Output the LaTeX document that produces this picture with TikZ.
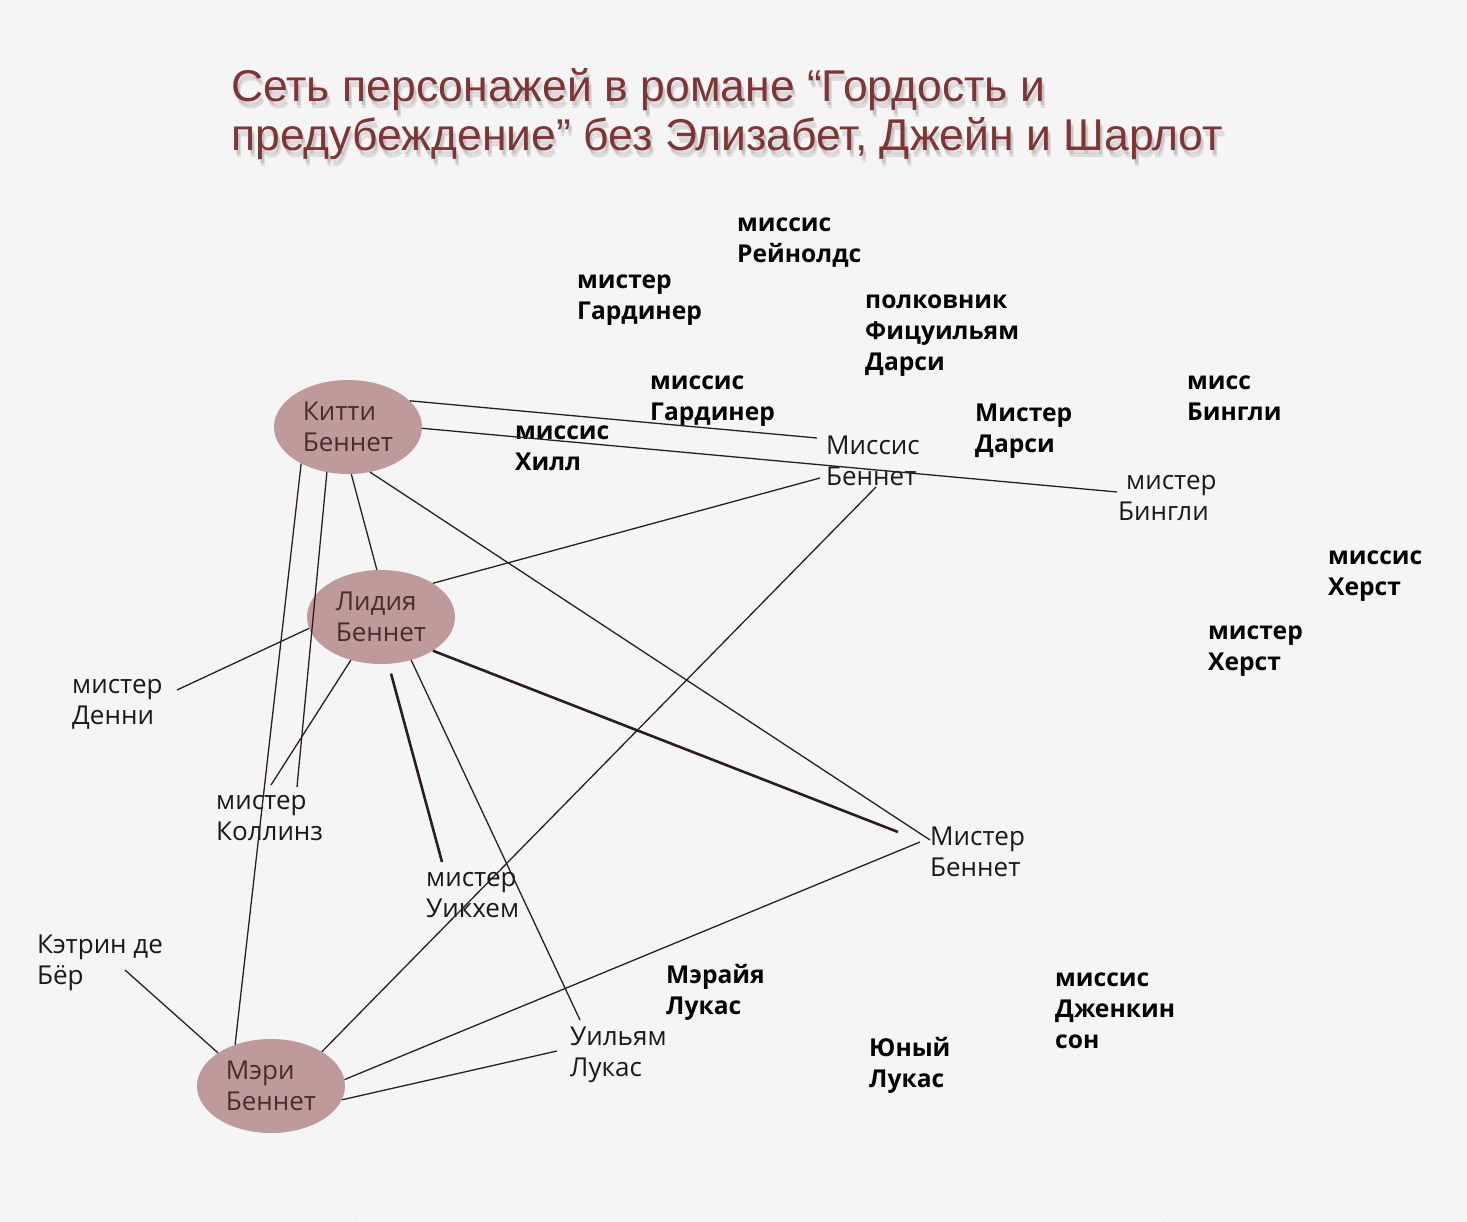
\documentclass[tikz,border=0pt]{standalone}
\usepackage{fontspec}
\setmainfont{Open Sans}
\newfontfamily\titlefont{Liberation Sans}
\usetikzlibrary{shapes.geometric}

\definecolor{bg}{HTML}{F5F5F5}
\definecolor{titlered}{HTML}{803434}
\definecolor{rosefill}{HTML}{BE9A9A}
\definecolor{rosetext}{HTML}{4A2C2C}
\definecolor{edgeink}{HTML}{2B1E1E}

\tikzset{
  person/.style={anchor=north west, inner sep=0pt, align=left, yshift=-4pt,
    font=\fontsize{26}{31}\selectfont, text=black!90},
  minor/.style={person, font=\fontsize{24.6}{31}\selectfont\bfseries, text=black},
  sister/.style={ellipse, fill=rosefill, minimum width=148pt,
    minimum height=94pt, inner sep=0pt, align=left, text=rosetext,
    font=\fontsize{26}{31}\selectfont},
  headline/.style={anchor=north west, inner sep=0pt, align=left,
    font=\titlefont\fontsize{44.5}{49}\selectfont},
  link/.style={edgeink, line width=1.3pt},
  tie/.style={edgeink, line width=2.6pt},
}

\begin{document}
\begin{tikzpicture}[x=1pt,y=-1pt]
  \fill[bg] (0,0) rectangle (1467,1222);
  \useasboundingbox (0,0) rectangle (1467,1222);
  \draw[black!12, fill=white!97!black, rounded corners=4pt] (355,1219) rectangle (1165,1240);

  % title with its soft shadow
  \node[headline, text=black, opacity=0.10] at (233,72)
    {Сеть персонажей в романе “Гордость и\\предубеждение” без Элизабет, Джейн и Шарлот};
  \node[headline, text=black, opacity=0.10] at (234,75)
    {Сеть персонажей в романе “Гордость и\\предубеждение” без Элизабет, Джейн и Шарлот};
  \node[headline, text=titlered] (title) at (231,68)
    {Сеть персонажей в романе “Гордость и\\предубеждение” без Элизабет, Джейн и Шарлот};

  % the three sisters
  \node[sister] (kitty) at (348,427) {Китти\\Беннет};
  \node[sister] (lydia) at (381,617) {Лидия\\Беннет};
  \node[sister] (mary) at (271,1086) {Мэри\\Беннет};

  % linked characters
  \node[person] (mrsbennet) at (826,432) {Миссис\\Беннет};
  \node[person] (bingley) at (1118,471) {\hspace*{8pt}мистер\\Бингли};
  \node[person] (denny) at (72,675) {мистер\\Денни};
  \node[person] (collins) at (216,791) {мистер\\Коллинз};
  \node[person] (wickham) at (426,868) {мистер\\Уикхем};
  \node[person] (mrbennet) at (930,823) {Мистер\\Беннет};
  \node[person] (lucas) at (570,1023) {Уильям\\Лукас};
  \node[person] (debourgh) at (37,931) {Кэтрин де\\Бёр};

  % characters with no link
  \node[minor] (reynolds) at (737,214) {миссис\\Рейнолдс};
  \node[minor] (mrgardiner) at (577,271) {мистер\\Гардинер};
  \node[minor] (fitzwilliam) at (865,291) {полковник\\Фицуильям\\Дарси};
  \node[minor] (mrsgardiner) at (650,372) {миссис\\Гардинер};
  \node[minor] (hill) at (515,422) {миссис\\Хилл};
  \node[minor] (darcy) at (975,400) {Мистер\\Дарси};
  \node[minor] (missbingley) at (1187,372) {мисс\\Бингли};
  \node[minor] (mrshurst) at (1328,547) {миссис\\Херст};
  \node[minor] (mrhurst) at (1208,622) {мистер\\Херст};
  \node[minor] (maria) at (666,960) {Мэрайя\\Лукас};
  \node[minor] (younglucas) at (869,1033) {Юный\\Лукас};
  \node[minor] (jenkinson) at (1055,969) {миссис\\Дженкин\\сон};

  % Kitty
  \draw[link] (kitty.23) -- ([shift={(-9,2)}]mrsbennet.north west);
  \draw[link] (kitty.-1) -- ([shift={(-1,17)}]bingley.north west);
  \draw[link] (kitty.-86) -- (lydia.95);
  \draw[link] (kitty.-64) -- ([shift={(0,13)}]mrbennet.north west);
  \draw[link] (kitty.-115) -- ([shift={(81,-8)}]collins.north west);
  \draw[link] (kitty.-142) -- (mary.131);

  % Lydia
  \draw[link] (lydia.33) -- ([shift={(-6,42)}]mrsbennet.north west);
  \draw[link] (lydia.-171) -- ([shift={(105,11)}]denny.north west);
  \draw[link] (lydia.-125) -- ([shift={(55,-10)}]collins.north west);
  \draw[tie, shorten <=10pt] (lydia.-81) -- ([shift={(16,-10)}]wickham.north west);
  \draw[link] (lydia.-55) -- ([shift={(10,-7)}]lucas.north west);
  \draw[tie] (lydia.-33) -- ([shift={(-32,5)}]mrbennet.north west);

  % Mary
  \draw[link] (mary.34) -- ([shift={(50,51)}]mrsbennet.north west);
  \draw[link] (mary.5) -- ([shift={(-10,15)}]mrbennet.north west);
  \draw[link] (mary.-11) -- ([shift={(-13,24)}]lucas.north west);
  \draw[link] ([shift={(88,35)}]debourgh.north west) -- (mary.148);
\end{tikzpicture}
\end{document}
